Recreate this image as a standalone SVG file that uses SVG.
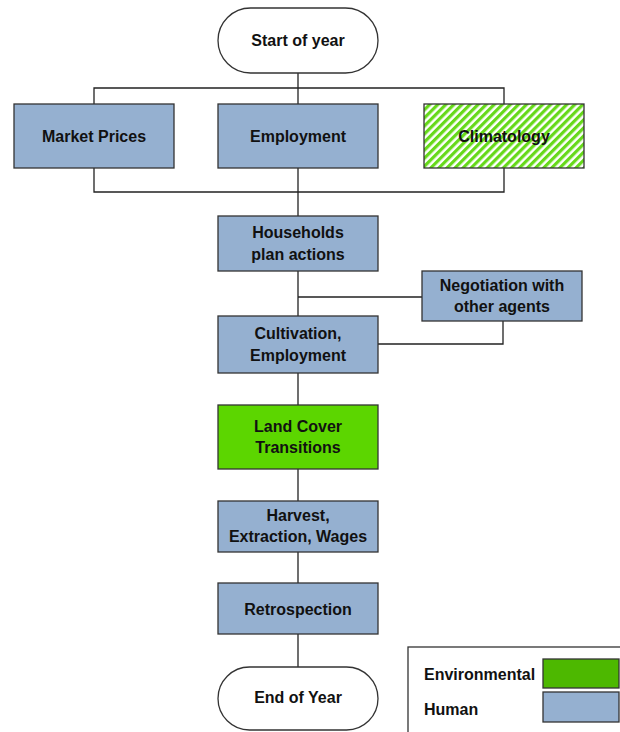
<svg xmlns="http://www.w3.org/2000/svg" width="620" height="732" viewBox="0 0 620 732">
<defs>
<pattern id="stripes" width="5.7" height="5.7" patternUnits="userSpaceOnUse" patternTransform="rotate(45)">
<rect width="5.7" height="5.7" fill="#ffffff"/>
<rect width="3.2" height="5.7" fill="#66d91a"/>
</pattern>
</defs>
<style>
.box{fill:#95b0d0;stroke:#333333;stroke-width:1.3}
.env{fill:#5cd600;stroke:#333333;stroke-width:1.3}
.term{fill:#ffffff;stroke:#333333;stroke-width:1.3}
.conn{fill:none;stroke:#222222;stroke-width:1.3}
text{font-family:"Liberation Sans",Arial,sans-serif;font-weight:bold;font-size:16px;fill:#111111;text-anchor:middle}
.lg{text-anchor:start}
</style>
<rect width="620" height="732" fill="#ffffff"/>
<g id="connectors">
<path class="conn" d="M298 73V104M94 104V88H504V104M94 168V192H504V168M298 168V216M298 271V316M298 297H422M378 344H503V321M298 373V405M298 469V501M298 552V583M298 634V667"/>
</g>
<g id="start">
<rect class="term" x="218" y="8" width="160" height="65" rx="32.5"/>
<text x="298" y="46">Start of year</text>
</g>
<g id="market">
<rect class="box" x="14" y="104" width="160" height="64"/>
<text x="94" y="142">Market Prices</text>
</g>
<g id="employment">
<rect class="box" x="218" y="104" width="160" height="64"/>
<text x="298" y="142">Employment</text>
</g>
<g id="climatology">
<rect x="424" y="104" width="160" height="64" fill="url(#stripes)" stroke="#333333" stroke-width="1.3"/>
<text x="504" y="142">Climatology</text>
</g>
<g id="households">
<rect class="box" x="218" y="216" width="160" height="55"/>
<text x="298" y="238">Households</text>
<text x="298" y="260">plan actions</text>
</g>
<g id="negotiation">
<rect class="box" x="422" y="271" width="160" height="50"/>
<text x="502" y="291">Negotiation with</text>
<text x="502" y="312">other agents</text>
</g>
<g id="cultivation">
<rect class="box" x="218" y="316" width="160" height="57"/>
<text x="298" y="339">Cultivation,</text>
<text x="298" y="361">Employment</text>
</g>
<g id="landcover">
<rect class="env" x="218" y="405" width="160" height="64"/>
<text x="298" y="432">Land Cover</text>
<text x="298" y="453">Transitions</text>
</g>
<g id="harvest">
<rect class="box" x="218" y="501" width="160" height="51"/>
<text x="298" y="521">Harvest,</text>
<text x="298" y="542">Extraction, Wages</text>
</g>
<g id="retrospection">
<rect class="box" x="218" y="583" width="160" height="51"/>
<text x="298" y="615">Retrospection</text>
</g>
<g id="end">
<rect class="term" x="218" y="667" width="160" height="63" rx="31.5"/>
<text x="298" y="703">End of Year</text>
</g>
<g id="legend">
<rect x="408" y="647" width="230" height="100" fill="#ffffff" stroke="#333333" stroke-width="1.3"/>
<text class="lg" x="424" y="680">Environmental</text>
<rect x="543" y="659" width="76" height="29" fill="#4db800" stroke="#333333" stroke-width="1.3"/>
<text class="lg" x="424" y="715">Human</text>
<rect x="543" y="692" width="76" height="30" fill="#95b0d0" stroke="#333333" stroke-width="1.3"/>
</g>
</svg>
